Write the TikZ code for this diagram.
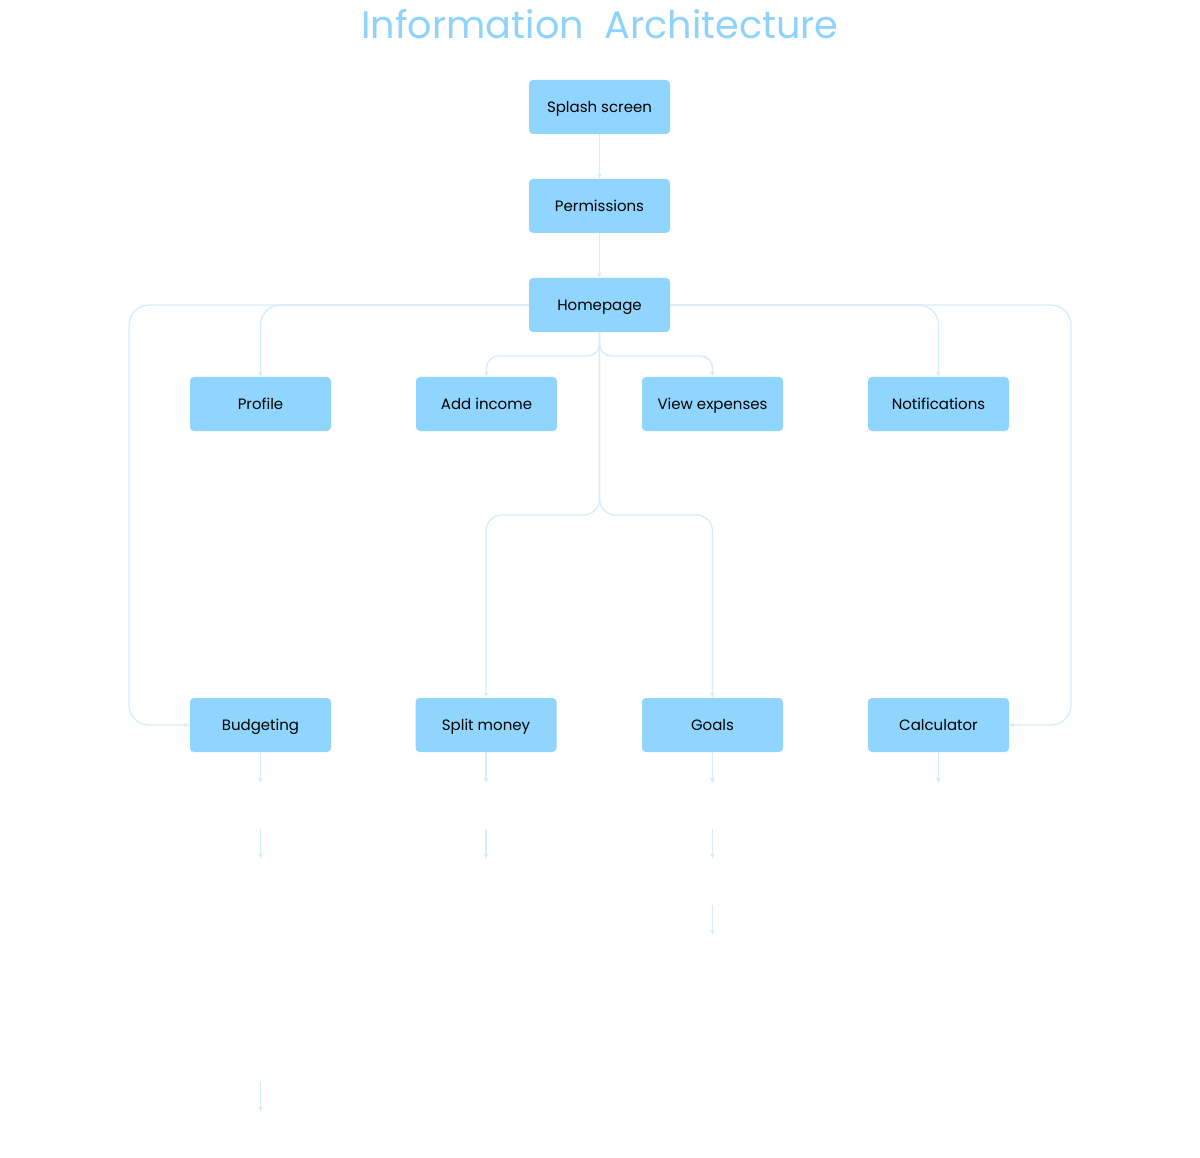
\documentclass[tikz,border=0pt]{standalone}
\usepackage{fontspec}
\setmainfont{Poppins}
\usetikzlibrary{arrows.meta,calc}
\definecolor{boxblue}{HTML}{8FD5FE}
\definecolor{linkblue}{HTML}{D5EDFB}
\definecolor{titleblue}{HTML}{8ED3FD}

\begin{document}
\begin{tikzpicture}
[   x=1pt, y=-1pt,
    screen/.style={rectangle, rounded corners=4pt, fill=boxblue, minimum width=141pt,
        minimum height=54pt, inner sep=0, text height=1.1em, text depth=0pt,
        font=\fontsize{15}{17}\selectfont},
    link/.style={draw=linkblue, line width=1.3pt, -{Latex[length=5pt,width=5pt]}}
]
    \useasboundingbox (0,0) rectangle (1200,1158);
    \node[text=titleblue, font=\fontsize{38.2}{40}\selectfont] (title) at (600,24)
        {Information\ \ Architecture};

    \node[screen] (splash) at (599.5,107) {Splash screen};
    \node[screen] (perm) at (599.5,206) {Permissions};
    \node[screen] (home) at (599.5,305) {Homepage};

    \node[screen] (profile) at (260.5,404) {Profile};
    \node[screen] (income) at (486.5,404) {Add income};
    \node[screen] (expenses) at (712.5,404) {View expenses};
    \node[screen] (notif) at (938.5,404) {Notifications};

    \node[screen] (budget) at (260.5,725) {Budgeting};
    \node[screen] (split) at (486,725) {Split money};
    \node[screen] (goals) at (712.5,725) {Goals};
    \node[screen] (calc) at (938.5,725) {Calculator};

    \draw[link] (splash) -- (perm);
    \draw[link] (perm) -- (home);

    % outer loops from the homepage
    \coordinate (lbend) at (129,305);
    \coordinate (rbend) at (1071,305);
    \draw[link, rounded corners=20pt] (home.west) -- (lbend) |- (budget.west);
    \draw[link, rounded corners=20pt] (home.east) -- (rbend) |- (calc.east);
    \draw[link, rounded corners=20pt] (home.west) -| (profile.north);
    \draw[link, rounded corners=20pt] (home.east) -| (notif.north);

    % trunk below the homepage
    \coordinate (upfork) at (599.5,356);
    \coordinate (fork) at (599.5,515);
    \draw[link, rounded corners=12pt] (home.south) -- (upfork) -| (income.north);
    \draw[link, rounded corners=12pt] (home.south) -- (upfork) -| (expenses.north);
    \draw[link, rounded corners=16pt] (home.south) -- (fork) -| (split.north);
    \draw[link, rounded corners=16pt] (home.south) -- (fork) -| (goals.north);

    % arrows below the bottom row
    \foreach \n in {budget, split, goals, calc}
    {   \coordinate (\n-end) at ($(\n.south)+(0,31)$);
        \draw[link] (\n.south) -- (\n-end);
    }
    \foreach \x/\ya/\yb [count=\i] in {260.5/829/859, 260.5/1082/1112, 486/829/859,
        712.5/829/859, 712.5/905/935}
    {   \coordinate (free-\i-a) at (\x,\ya);
        \coordinate (free-\i-b) at (\x,\yb);
        \draw[link] (free-\i-a) -- (free-\i-b);
    }
\end{tikzpicture}
\end{document}
